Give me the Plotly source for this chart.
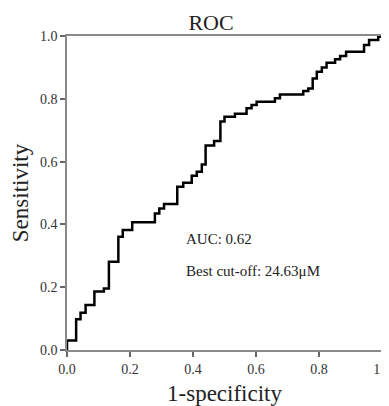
import plotly.graph_objects as go

# ROC curve vertices (1-specificity, sensitivity), step shape "hv"
fpr = [0.0, 0.0, 0.029, 0.043, 0.059, 0.087, 0.117, 0.133, 0.163, 0.177,
       0.207, 0.279, 0.293, 0.308, 0.350, 0.369, 0.396, 0.412, 0.428, 0.440,
       0.467, 0.487, 0.500, 0.533, 0.570, 0.586, 0.602, 0.660, 0.676, 0.750,
       0.766, 0.780, 0.793, 0.809, 0.824, 0.851, 0.867, 0.886, 0.943, 0.959,
       0.988, 1.0]
tpr = [0.0, 0.030, 0.098, 0.119, 0.143, 0.186, 0.196, 0.281, 0.361, 0.382,
       0.407, 0.435, 0.451, 0.465, 0.520, 0.533, 0.555, 0.568, 0.591, 0.651,
       0.666, 0.728, 0.743, 0.752, 0.770, 0.780, 0.791, 0.802, 0.814, 0.825,
       0.833, 0.865, 0.886, 0.900, 0.915, 0.926, 0.936, 0.950, 0.971, 0.987,
       0.998, 1.0]

tick_vals = [0.0, 0.2, 0.4, 0.6, 0.8, 1.0]
tick_text = ["0.0", "0.2", "0.4", "0.6", "0.8", "1.0"]

auc_text = "AUC: 0.62"
cutoff_text = "Best cut-off: 24.63μM"

FONT = "Liberation Serif, Times New Roman, serif"

fig = go.Figure()
fig.add_trace(go.Scatter(
    x=fpr, y=tpr, mode="lines", line=dict(shape="hv", color="black", width=2.5),
    cliponaxis=False, showlegend=False, hoverinfo="skip"))

fig.add_annotation(x=0.37, y=0.353, xref="x", yref="y", text=auc_text,
                   showarrow=False, xanchor="left", yanchor="middle",
                   font=dict(family=FONT, size=15, color="#222"))
fig.add_annotation(x=0.37, y=0.252, xref="x", yref="y", text=cutoff_text,
                   showarrow=False, xanchor="left", yanchor="middle",
                   font=dict(family=FONT, size=15, color="#222"))

axis_common = dict(
    range=[0, 1], tickvals=tick_vals, ticktext=tick_text, automargin=False,
    ticklabeloverflow="allow",
    showgrid=False, zeroline=False, showline=True, linecolor="#8a8a8a",
    linewidth=1.5, mirror=True, ticks="outside", ticklen=5, tickcolor="#666",
    tickwidth=1.5, tickfont=dict(family=FONT, size=14, color="#333"),
)

# page body adds an 8px offset, so the figure is sized to fit the window
fig.update_layout(
    width=381, height=398,
    margin=dict(l=59, r=7, t=28, b=56),
    paper_bgcolor="white", plot_bgcolor="white",
    title=dict(text="ROC", x=0.533, xanchor="center", y=0.965, yanchor="middle",
               font=dict(family=FONT, size=22, color="#222")),
    xaxis=dict(**axis_common, title=dict(text="1-specificity", standoff=10,
               font=dict(family=FONT, size=23, color="#222"))),
    yaxis=dict(**axis_common, title=dict(text="Sensitivity", standoff=7,
               font=dict(family=FONT, size=23, color="#222"))),
)

fig.write_html("out.html")
